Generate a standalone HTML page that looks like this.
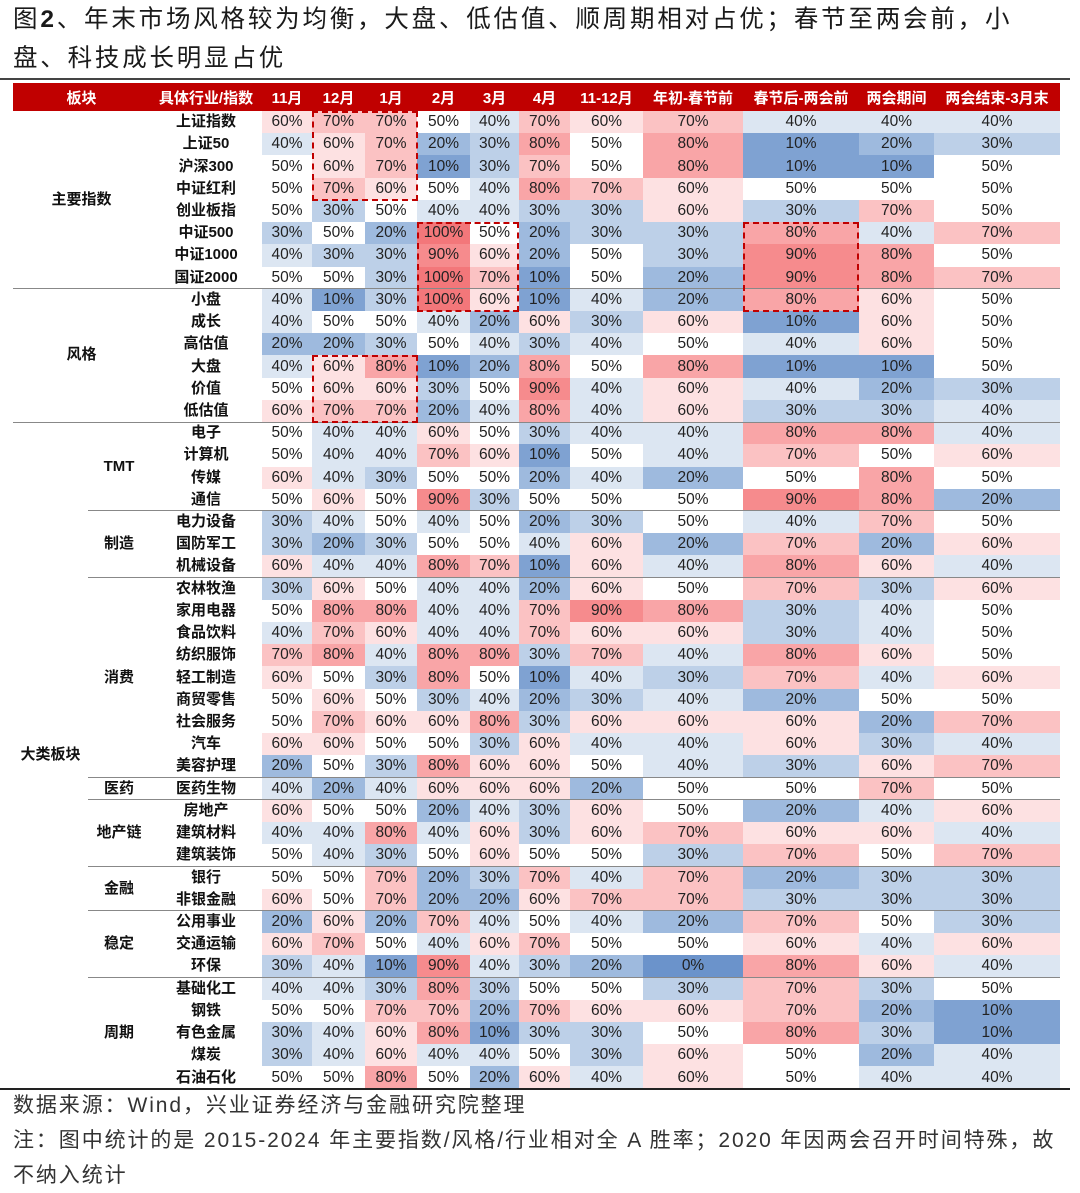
<!DOCTYPE html>
<html><head><meta charset="utf-8">
<style>
body{margin:0;width:1080px;height:1192px;background:#fff;position:relative;overflow:hidden;font-family:"Liberation Sans","Noto Sans CJK SC",sans-serif;color:#222}
.title{position:absolute;left:13px;top:0;font-size:24.5px;line-height:39px;width:1070px;color:#1a1a1a;letter-spacing:2.8px}
.topline{position:absolute;left:0;top:78px;width:1070px;height:2px;background:#444}
table{position:absolute;left:13px;top:83px;border-collapse:collapse;table-layout:fixed;width:1047px}
td,th{padding:0;text-align:center;white-space:nowrap;overflow:hidden}
th{background:#C00000;color:#fff;font-size:15px;font-weight:bold;height:28px}
td{height:22.23px;font-size:15.5px;line-height:22px}
td.l{font-weight:bold;color:#111;font-size:15px}
.a{background:#F3777A}.b{background:#F68B8D}.c{background:#F9A5A7}.d{background:#FBC2C3}.e{background:#FDE1E2}.f{background:#fff}.g{background:#DCE6F2}.h{background:#BDD0E8}.i{background:#9EBADE}.j{background:#7FA2D2}.k{background:#6B93CB}
.ln{position:absolute;height:1px;background:#888}
.box{position:absolute;border:2.5px dashed #C00000;box-sizing:border-box}
.foot{position:absolute;left:13px;top:1088px;font-size:21px;line-height:35px;color:#333;letter-spacing:1.9px;width:1070px}
.bot{position:absolute;left:0;top:1088px;width:1070px;height:2px;background:#222}
</style></head><body>
<div class="title">图<b>2</b>、年末市场风格较为均衡，大盘、低估值、顺周期相对占优；春节至两会前，小<br>盘、科技成长明显占优</div>
<div class="topline"></div>
<table>
<colgroup><col style="width:75px"><col style="width:62px"><col style="width:112px"><col style="width:50px"><col style="width:53px"><col style="width:52px"><col style="width:53px"><col style="width:49px"><col style="width:51px"><col style="width:73px"><col style="width:100px"><col style="width:116px"><col style="width:75px"><col style="width:126px"></colgroup>
<tr><th colspan="2">板块</th><th>具体行业/指数</th><th>11月</th><th>12月</th><th>1月</th><th>2月</th><th>3月</th><th>4月</th><th>11-12月</th><th>年初-春节前</th><th>春节后-两会前</th><th>两会期间</th><th>两会结束-3月末</th></tr>
<tr><td class="l" colspan="2" rowspan="8">主要指数</td><td class="l">上证指数</td><td class="e">60%</td><td class="d">70%</td><td class="d">70%</td><td class="f">50%</td><td class="g">40%</td><td class="d">70%</td><td class="e">60%</td><td class="d">70%</td><td class="g">40%</td><td class="g">40%</td><td class="g">40%</td></tr>
<tr><td class="l">上证50</td><td class="g">40%</td><td class="e">60%</td><td class="d">70%</td><td class="i">20%</td><td class="h">30%</td><td class="c">80%</td><td class="f">50%</td><td class="c">80%</td><td class="j">10%</td><td class="i">20%</td><td class="h">30%</td></tr>
<tr><td class="l">沪深300</td><td class="f">50%</td><td class="e">60%</td><td class="d">70%</td><td class="j">10%</td><td class="h">30%</td><td class="d">70%</td><td class="f">50%</td><td class="c">80%</td><td class="j">10%</td><td class="j">10%</td><td class="f">50%</td></tr>
<tr><td class="l">中证红利</td><td class="f">50%</td><td class="d">70%</td><td class="e">60%</td><td class="f">50%</td><td class="g">40%</td><td class="c">80%</td><td class="d">70%</td><td class="e">60%</td><td class="f">50%</td><td class="f">50%</td><td class="f">50%</td></tr>
<tr><td class="l">创业板指</td><td class="f">50%</td><td class="h">30%</td><td class="f">50%</td><td class="g">40%</td><td class="g">40%</td><td class="h">30%</td><td class="h">30%</td><td class="e">60%</td><td class="h">30%</td><td class="d">70%</td><td class="f">50%</td></tr>
<tr><td class="l">中证500</td><td class="h">30%</td><td class="f">50%</td><td class="i">20%</td><td class="a">100%</td><td class="f">50%</td><td class="i">20%</td><td class="h">30%</td><td class="h">30%</td><td class="c">80%</td><td class="g">40%</td><td class="d">70%</td></tr>
<tr><td class="l">中证1000</td><td class="g">40%</td><td class="h">30%</td><td class="h">30%</td><td class="b">90%</td><td class="e">60%</td><td class="i">20%</td><td class="f">50%</td><td class="h">30%</td><td class="b">90%</td><td class="c">80%</td><td class="f">50%</td></tr>
<tr><td class="l">国证2000</td><td class="f">50%</td><td class="f">50%</td><td class="h">30%</td><td class="a">100%</td><td class="d">70%</td><td class="j">10%</td><td class="f">50%</td><td class="i">20%</td><td class="b">90%</td><td class="c">80%</td><td class="d">70%</td></tr>
<tr><td class="l" colspan="2" rowspan="6">风格</td><td class="l">小盘</td><td class="g">40%</td><td class="j">10%</td><td class="h">30%</td><td class="a">100%</td><td class="e">60%</td><td class="j">10%</td><td class="g">40%</td><td class="i">20%</td><td class="c">80%</td><td class="e">60%</td><td class="f">50%</td></tr>
<tr><td class="l">成长</td><td class="g">40%</td><td class="f">50%</td><td class="f">50%</td><td class="g">40%</td><td class="i">20%</td><td class="e">60%</td><td class="h">30%</td><td class="e">60%</td><td class="j">10%</td><td class="e">60%</td><td class="f">50%</td></tr>
<tr><td class="l">高估值</td><td class="i">20%</td><td class="i">20%</td><td class="h">30%</td><td class="f">50%</td><td class="g">40%</td><td class="h">30%</td><td class="g">40%</td><td class="f">50%</td><td class="g">40%</td><td class="e">60%</td><td class="f">50%</td></tr>
<tr><td class="l">大盘</td><td class="g">40%</td><td class="e">60%</td><td class="c">80%</td><td class="j">10%</td><td class="i">20%</td><td class="c">80%</td><td class="f">50%</td><td class="c">80%</td><td class="j">10%</td><td class="j">10%</td><td class="f">50%</td></tr>
<tr><td class="l">价值</td><td class="f">50%</td><td class="e">60%</td><td class="e">60%</td><td class="h">30%</td><td class="f">50%</td><td class="b">90%</td><td class="g">40%</td><td class="e">60%</td><td class="g">40%</td><td class="i">20%</td><td class="h">30%</td></tr>
<tr><td class="l">低估值</td><td class="e">60%</td><td class="d">70%</td><td class="d">70%</td><td class="i">20%</td><td class="g">40%</td><td class="c">80%</td><td class="g">40%</td><td class="e">60%</td><td class="h">30%</td><td class="h">30%</td><td class="g">40%</td></tr>
<tr><td class="l" rowspan="30">大类板块</td><td class="l" rowspan="4">TMT</td><td class="l">电子</td><td class="f">50%</td><td class="g">40%</td><td class="g">40%</td><td class="e">60%</td><td class="f">50%</td><td class="h">30%</td><td class="g">40%</td><td class="g">40%</td><td class="c">80%</td><td class="c">80%</td><td class="g">40%</td></tr>
<tr><td class="l">计算机</td><td class="f">50%</td><td class="g">40%</td><td class="g">40%</td><td class="d">70%</td><td class="e">60%</td><td class="j">10%</td><td class="f">50%</td><td class="g">40%</td><td class="d">70%</td><td class="f">50%</td><td class="e">60%</td></tr>
<tr><td class="l">传媒</td><td class="e">60%</td><td class="g">40%</td><td class="h">30%</td><td class="f">50%</td><td class="f">50%</td><td class="i">20%</td><td class="g">40%</td><td class="i">20%</td><td class="f">50%</td><td class="c">80%</td><td class="f">50%</td></tr>
<tr><td class="l">通信</td><td class="f">50%</td><td class="e">60%</td><td class="f">50%</td><td class="b">90%</td><td class="h">30%</td><td class="f">50%</td><td class="f">50%</td><td class="f">50%</td><td class="b">90%</td><td class="c">80%</td><td class="i">20%</td></tr>
<tr><td class="l" rowspan="3">制造</td><td class="l">电力设备</td><td class="h">30%</td><td class="g">40%</td><td class="f">50%</td><td class="g">40%</td><td class="f">50%</td><td class="i">20%</td><td class="h">30%</td><td class="f">50%</td><td class="g">40%</td><td class="d">70%</td><td class="f">50%</td></tr>
<tr><td class="l">国防军工</td><td class="h">30%</td><td class="i">20%</td><td class="h">30%</td><td class="f">50%</td><td class="f">50%</td><td class="g">40%</td><td class="e">60%</td><td class="i">20%</td><td class="d">70%</td><td class="i">20%</td><td class="e">60%</td></tr>
<tr><td class="l">机械设备</td><td class="e">60%</td><td class="g">40%</td><td class="g">40%</td><td class="c">80%</td><td class="d">70%</td><td class="j">10%</td><td class="e">60%</td><td class="g">40%</td><td class="c">80%</td><td class="e">60%</td><td class="g">40%</td></tr>
<tr><td class="l" rowspan="9">消费</td><td class="l">农林牧渔</td><td class="h">30%</td><td class="e">60%</td><td class="f">50%</td><td class="g">40%</td><td class="g">40%</td><td class="i">20%</td><td class="e">60%</td><td class="f">50%</td><td class="d">70%</td><td class="h">30%</td><td class="e">60%</td></tr>
<tr><td class="l">家用电器</td><td class="f">50%</td><td class="c">80%</td><td class="c">80%</td><td class="g">40%</td><td class="g">40%</td><td class="d">70%</td><td class="b">90%</td><td class="c">80%</td><td class="h">30%</td><td class="g">40%</td><td class="f">50%</td></tr>
<tr><td class="l">食品饮料</td><td class="g">40%</td><td class="d">70%</td><td class="e">60%</td><td class="g">40%</td><td class="g">40%</td><td class="d">70%</td><td class="e">60%</td><td class="e">60%</td><td class="h">30%</td><td class="g">40%</td><td class="f">50%</td></tr>
<tr><td class="l">纺织服饰</td><td class="d">70%</td><td class="c">80%</td><td class="g">40%</td><td class="c">80%</td><td class="c">80%</td><td class="h">30%</td><td class="d">70%</td><td class="g">40%</td><td class="c">80%</td><td class="e">60%</td><td class="f">50%</td></tr>
<tr><td class="l">轻工制造</td><td class="e">60%</td><td class="f">50%</td><td class="h">30%</td><td class="c">80%</td><td class="f">50%</td><td class="j">10%</td><td class="g">40%</td><td class="h">30%</td><td class="d">70%</td><td class="g">40%</td><td class="e">60%</td></tr>
<tr><td class="l">商贸零售</td><td class="f">50%</td><td class="e">60%</td><td class="f">50%</td><td class="h">30%</td><td class="g">40%</td><td class="i">20%</td><td class="h">30%</td><td class="g">40%</td><td class="i">20%</td><td class="f">50%</td><td class="f">50%</td></tr>
<tr><td class="l">社会服务</td><td class="f">50%</td><td class="d">70%</td><td class="e">60%</td><td class="e">60%</td><td class="c">80%</td><td class="h">30%</td><td class="e">60%</td><td class="e">60%</td><td class="e">60%</td><td class="i">20%</td><td class="d">70%</td></tr>
<tr><td class="l">汽车</td><td class="e">60%</td><td class="e">60%</td><td class="f">50%</td><td class="f">50%</td><td class="h">30%</td><td class="e">60%</td><td class="g">40%</td><td class="g">40%</td><td class="e">60%</td><td class="h">30%</td><td class="g">40%</td></tr>
<tr><td class="l">美容护理</td><td class="i">20%</td><td class="f">50%</td><td class="h">30%</td><td class="c">80%</td><td class="e">60%</td><td class="e">60%</td><td class="f">50%</td><td class="g">40%</td><td class="h">30%</td><td class="e">60%</td><td class="d">70%</td></tr>
<tr><td class="l">医药</td><td class="l">医药生物</td><td class="g">40%</td><td class="i">20%</td><td class="g">40%</td><td class="e">60%</td><td class="e">60%</td><td class="e">60%</td><td class="i">20%</td><td class="f">50%</td><td class="f">50%</td><td class="d">70%</td><td class="f">50%</td></tr>
<tr><td class="l" rowspan="3">地产链</td><td class="l">房地产</td><td class="e">60%</td><td class="f">50%</td><td class="f">50%</td><td class="i">20%</td><td class="g">40%</td><td class="h">30%</td><td class="e">60%</td><td class="f">50%</td><td class="i">20%</td><td class="g">40%</td><td class="e">60%</td></tr>
<tr><td class="l">建筑材料</td><td class="g">40%</td><td class="g">40%</td><td class="c">80%</td><td class="g">40%</td><td class="e">60%</td><td class="h">30%</td><td class="e">60%</td><td class="d">70%</td><td class="e">60%</td><td class="e">60%</td><td class="g">40%</td></tr>
<tr><td class="l">建筑装饰</td><td class="f">50%</td><td class="g">40%</td><td class="h">30%</td><td class="f">50%</td><td class="e">60%</td><td class="f">50%</td><td class="f">50%</td><td class="h">30%</td><td class="d">70%</td><td class="f">50%</td><td class="d">70%</td></tr>
<tr><td class="l" rowspan="2">金融</td><td class="l">银行</td><td class="f">50%</td><td class="f">50%</td><td class="d">70%</td><td class="i">20%</td><td class="h">30%</td><td class="d">70%</td><td class="g">40%</td><td class="d">70%</td><td class="i">20%</td><td class="h">30%</td><td class="h">30%</td></tr>
<tr><td class="l">非银金融</td><td class="e">60%</td><td class="f">50%</td><td class="d">70%</td><td class="i">20%</td><td class="i">20%</td><td class="e">60%</td><td class="d">70%</td><td class="d">70%</td><td class="h">30%</td><td class="h">30%</td><td class="h">30%</td></tr>
<tr><td class="l" rowspan="3">稳定</td><td class="l">公用事业</td><td class="i">20%</td><td class="e">60%</td><td class="i">20%</td><td class="d">70%</td><td class="g">40%</td><td class="f">50%</td><td class="g">40%</td><td class="i">20%</td><td class="d">70%</td><td class="f">50%</td><td class="h">30%</td></tr>
<tr><td class="l">交通运输</td><td class="e">60%</td><td class="d">70%</td><td class="f">50%</td><td class="g">40%</td><td class="e">60%</td><td class="d">70%</td><td class="f">50%</td><td class="f">50%</td><td class="e">60%</td><td class="g">40%</td><td class="e">60%</td></tr>
<tr><td class="l">环保</td><td class="h">30%</td><td class="g">40%</td><td class="j">10%</td><td class="b">90%</td><td class="g">40%</td><td class="h">30%</td><td class="i">20%</td><td class="k">0%</td><td class="c">80%</td><td class="e">60%</td><td class="g">40%</td></tr>
<tr><td class="l" rowspan="5">周期</td><td class="l">基础化工</td><td class="g">40%</td><td class="g">40%</td><td class="h">30%</td><td class="c">80%</td><td class="h">30%</td><td class="f">50%</td><td class="f">50%</td><td class="h">30%</td><td class="d">70%</td><td class="h">30%</td><td class="f">50%</td></tr>
<tr><td class="l">钢铁</td><td class="f">50%</td><td class="f">50%</td><td class="d">70%</td><td class="d">70%</td><td class="i">20%</td><td class="d">70%</td><td class="e">60%</td><td class="e">60%</td><td class="d">70%</td><td class="i">20%</td><td class="j">10%</td></tr>
<tr><td class="l">有色金属</td><td class="h">30%</td><td class="g">40%</td><td class="e">60%</td><td class="c">80%</td><td class="j">10%</td><td class="h">30%</td><td class="h">30%</td><td class="f">50%</td><td class="c">80%</td><td class="h">30%</td><td class="j">10%</td></tr>
<tr><td class="l">煤炭</td><td class="h">30%</td><td class="g">40%</td><td class="e">60%</td><td class="g">40%</td><td class="g">40%</td><td class="f">50%</td><td class="h">30%</td><td class="e">60%</td><td class="f">50%</td><td class="i">20%</td><td class="g">40%</td></tr>
<tr><td class="l">石油石化</td><td class="f">50%</td><td class="f">50%</td><td class="c">80%</td><td class="f">50%</td><td class="i">20%</td><td class="e">60%</td><td class="g">40%</td><td class="e">60%</td><td class="f">50%</td><td class="g">40%</td><td class="g">40%</td></tr>
</table>
<div class="ln" style="left:13px;width:1047px;top:288px"></div>
<div class="ln" style="left:13px;width:1047px;top:422px"></div>
<div class="ln" style="left:88px;width:972px;top:510px"></div>
<div class="ln" style="left:88px;width:972px;top:577px"></div>
<div class="ln" style="left:88px;width:972px;top:777px"></div>
<div class="ln" style="left:88px;width:972px;top:799px"></div>
<div class="ln" style="left:88px;width:972px;top:866px"></div>
<div class="ln" style="left:88px;width:972px;top:910px"></div>
<div class="ln" style="left:88px;width:972px;top:977px"></div>
<div class="box" style="left:312px;top:111px;width:106px;height:90px"></div>
<div class="box" style="left:312px;top:355px;width:106px;height:68px"></div>
<div class="box" style="left:417px;top:222px;width:102px;height:90px"></div>
<div class="box" style="left:743px;top:222px;width:116px;height:90px"></div>
<div class="bot"></div>
<div class="foot">数据来源：Wind，兴业证券经济与金融研究院整理<br>注：图中统计的是 2015-2024 年主要指数/风格/行业相对全 A 胜率；2020 年因两会召开时间特殊，故<br>不纳入统计</div>
</body></html>
